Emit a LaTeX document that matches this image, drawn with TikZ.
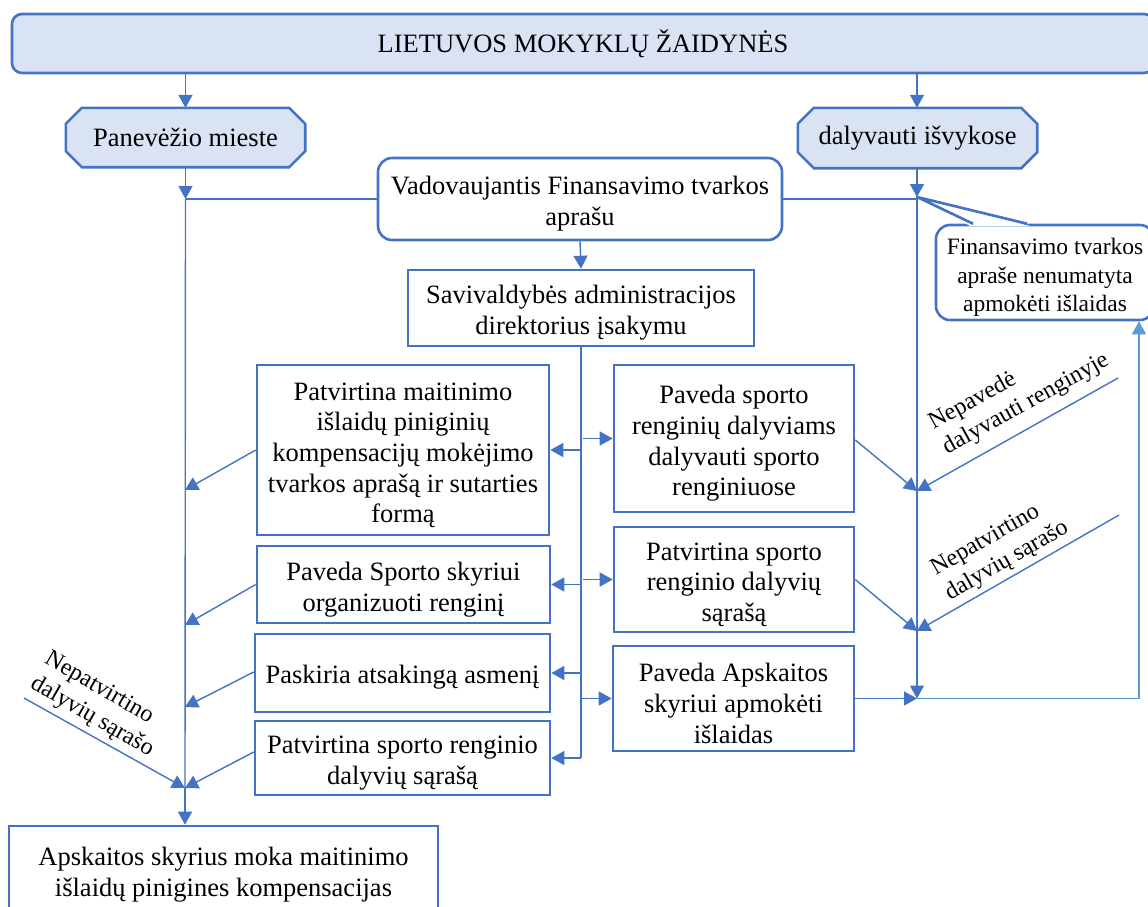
\documentclass[tikz,border=0pt]{standalone}
\usepackage{fontspec}
\setmainfont{Liberation Serif}
\usetikzlibrary{arrows.meta,calc}
\definecolor{bord}{HTML}{4472C4}
\definecolor{lfill}{HTML}{DAE3F3}
\definecolor{lline}{HTML}{5B9BD5}
\newcommand\myup[1]{\rule{0pt}{#1pt}}
\tikzset{
 txt/.style={font=\fontsize{26.5}{30.7}\selectfont, align=center, inner sep=0pt},
 box/.style={txt, draw=bord, line width=2.6pt, fill=white},
 rbox/.style={box, rounded corners=14pt},
 octline/.style={draw=bord, line width=2.6pt, fill=lfill, line join=miter},
 conn/.style={draw=bord, line width=1.4pt},
 arr/.style={conn, -{Triangle[length=13pt,width=14pt]}},
 larr/.style={draw=lline, line width=1.4pt, -{Triangle[length=13pt,width=14pt]}},
 lbl/.style={font=\fontsize{24}{28.5}\selectfont, align=left, inner sep=0pt},
}
\begin{document}
\begin{tikzpicture}[x=1pt,y=-1pt]
\useasboundingbox (0,0) rectangle (1148,906);
% top box
\node[txt, draw=bord, line width=2.6pt, rounded corners=10pt, fill=lfill, minimum width=1142pt, minimum height=59pt] (top) at (583,43.5) {LIETUVOS MOKYKLŲ ŽAIDYNĖS};
% octagons
\node[inner sep=0pt, minimum width=239pt, minimum height=59pt] (pan) at (185.5,137.5) {};
\draw[octline] ([xshift=16pt]pan.north west) -- ([xshift=-16pt]pan.north east) -- ([yshift=-16pt]pan.north east) -- ([yshift=16pt]pan.south east) -- ([xshift=-16pt]pan.south east) -- ([xshift=16pt]pan.south west) -- ([yshift=16pt]pan.south west) -- ([yshift=-16pt]pan.north west) -- cycle;
\node[txt] (panT) at (pan) {Panevėžio mieste};
\node[inner sep=0pt, minimum width=239pt, minimum height=60pt] (dal) at (917.5,138) {};
\draw[octline] ([xshift=16pt]dal.north west) -- ([xshift=-16pt]dal.north east) -- ([yshift=-16pt]dal.north east) -- ([yshift=16pt]dal.south east) -- ([xshift=-16pt]dal.south east) -- ([xshift=16pt]dal.south west) -- ([yshift=16pt]dal.south west) -- ([yshift=-16pt]dal.north west) -- cycle;
\node[txt] (dalT) at (dal) {dalyvauti išvykose};
% boxes
\node[rbox, minimum width=404pt, minimum height=82pt] (vad) at (580,199) {\myup{28}Vadovaujantis Finansavimo tvarkos\\aprašu};
\node[box, minimum width=346pt, minimum height=76pt] (sav) at (581,308) {\myup{28}Savivaldybės administracijos\\direktorius įsakymu};
\node[rbox, font=\fontsize{23.5}{28.5}\selectfont, minimum width=218pt, minimum height=95pt] (fin) at (1045,272.5) {\myup{26}Finansavimo tvarkos\\apraše nenumatyta\\apmokėti išlaidas};
\node[box, minimum width=292pt, minimum height=170pt] (L1) at (403,450) {\myup{28}Patvirtina maitinimo\\išlaidų piniginių\\kompensacijų mokėjimo\\tvarkos aprašą ir sutarties\\formą};
\node[box, minimum width=293pt, minimum height=77pt] (L2) at (403.5,584.5) {\myup{28}Paveda Sporto skyriui\\organizuoti renginį};
\node[box, minimum width=295pt, minimum height=78pt] (L3) at (402.5,673) {\myup{26}Paskiria atsakingą asmenį};
\node[box, minimum width=295pt, minimum height=74pt] (L4) at (402.5,758) {\myup{28}Patvirtina sporto renginio\\dalyvių sąrašą};
\node[box, minimum width=240pt, minimum height=147pt] (R1) at (734,438.5) {\myup{28}Paveda sporto\\renginių dalyviams\\dalyvauti sporto\\renginiuose};
\node[box, minimum width=240pt, minimum height=105pt] (R2) at (734,579.5) {\myup{28}Patvirtina sporto\\renginio dalyvių\\sąrašą};
\node[box, minimum width=241pt, minimum height=105pt] (R3) at (733.5,698.5) {\myup{28}Paveda Apskaitos\\skyriui apmokėti\\išlaidas};
\node[box, minimum width=429pt, minimum height=92pt] (bot) at (223.5,872) {\myup{23}Apskaitos skyrius moka maitinimo\\išlaidų pinigines kompensacijas};
% labels
\node[lbl, rotate=29] (t1) at (1019,392) {Nepavedė\\dalyvauti renginyje};
\node[lbl, rotate=30] (t2) at (1000,549) {Nepatvirtino\\dalyvių sąrašo};
\node[lbl, rotate=-30] (t3) at (99,705) {Nepatvirtino\\dalyvių sąrašo};
% coordinates
\coordinate (jl) at (pan.south |- vad.west);
\coordinate (jr) at (917,197);
\coordinate (a1) at (185,490);
\coordinate (a2) at (185,625);
\coordinate (a3) at (185,707);
\coordinate (a4) at (185,788);
\coordinate (n0) at (24,698);
\coordinate (b1) at (917,491);
\coordinate (b2) at (917,631);
\coordinate (b3) at (jr |- R3.east);
\coordinate (m1) at (1118,378);
\coordinate (m2) at (1119,515);
\coordinate (e1) at (1139,698.5);
\coordinate (c4) at (sav.south |- L4.east);
% callout pointer
\fill[white] ([xshift=-75pt,yshift=-2.2pt]fin.north) -- (jr) -- ([xshift=-15pt,yshift=-2.2pt]fin.north) -- cycle;
\draw[draw=bord, line width=2.6pt, line join=round] ([xshift=-72pt]fin.north) -- (jr) -- ([xshift=-18pt]fin.north);
% connectors
\draw[arr] (top.south -| pan.north) -- (pan.north);
\draw[arr] (top.south -| jr) -- (dal.north -| jr);
\draw[arr] (pan.south) -- (jl);
\draw[conn] (vad.west) -- (jl);
\draw[arr] (dal.south -| jr) -- (jr);
\draw[conn] (vad.east) -- (vad.east -| jr);
\draw[arr] (vad.south) -- (sav.north);
% center trunk
\draw[conn] (sav.south) -- (c4);
\draw[arr] (c4) -- (L4.east);
\draw[arr] (sav.south |- L1.east) -- (L1.east);
\draw[arr] (sav.south |- L2.east) -- (L2.east);
\draw[arr] (sav.south |- L3.east) -- (L3.east);
\draw[arr] ([xshift=2pt]sav.south |- R1.west) -- (R1.west);
\draw[arr] ([xshift=2pt]sav.south |- R2.west) -- (R2.west);
\draw[arr] (sav.south |- R3.west) -- (R3.west);
% left trunk
\draw[conn] (jl) -- (a4);
\draw[arr] (a4) -- (bot.north -| a4);
\draw[arr] (L1.west) -- (a1);
\draw[arr] (L2.west) -- (a2);
\draw[arr] ([yshift=1pt]L3.west) -- (a3);
\draw[arr] ([yshift=6pt]L4.west) -- (a4);
\draw[arr] (n0) -- (a4);
% right trunk
\draw[arr] (jr) -- (b3);
\draw[arr] ([yshift=-1.5pt]R1.east) -- (b1);
\draw[arr] (R2.east) -- (b2);
\draw[arr] (R3.east) -- (b3);
\draw[arr] (m1) -- (b1);
\draw[arr] (m2) -- (b2);
\draw[larr] (b3) -- (e1) -- (e1 |- fin.south);
\end{tikzpicture}
\end{document}
